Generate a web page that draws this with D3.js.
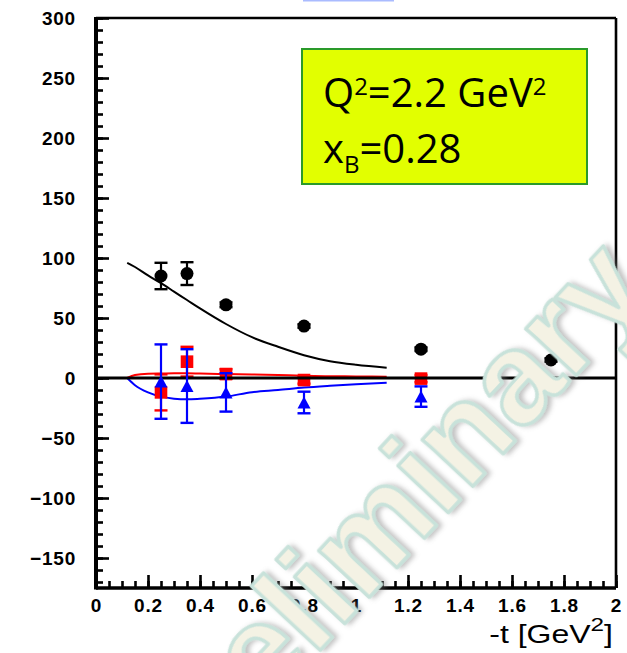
<!DOCTYPE html>
<html>
<head>
<meta charset="utf-8">
<script src="https://cdn.jsdelivr.net/npm/d3@7"></script>
<style>
    body { margin: 0; background: #fff; }
    svg { display: block; }
</style>
</head>
<body>
<script>
//everything inside an anonymous function so nothing leaks to global scope
(function () {

    //data
    var xTicks = [0, 0.2, 0.4, 0.6, 0.8, 1, 1.2, 1.4, 1.6, 1.8, 2];
    var yTicks = [-150, -100, -50, 0, 50, 100, 150, 200, 250, 300];

    var blackT = [0.25, 0.35, 0.5, 0.8, 1.25, 1.75];
    var blackVal = [85, 87, 61, 43.3, 24, 15];
    var blackErr = [11, 9.5, 2, 1.5, 1.5, 1.5];

    var redT = [0.25, 0.35, 0.5, 0.8, 1.25];
    var redVal = [-12, 13.6, 3.3, -1.7, -0.5];
    var redErr = [15, 12.4, 4, 3, 3];

    var blueT = [0.25, 0.35, 0.5, 0.8, 1.25];
    var blueVal = [-3, -6.7, -12, -20.4, -15.5];
    var blueErr = [31, 30.7, 16, 9, 8.5];

    var curveT = [0.12, 0.15, 0.2, 0.25, 0.3, 0.35, 0.4, 0.5, 0.6, 0.7, 0.8, 0.9, 1.0, 1.118];
    var blackCurve = [96, 92.5, 85.5, 79, 72, 65, 58, 45, 34, 26, 19, 14, 11, 8.6];
    var redCurve = [0, 2.5, 3.6, 3.8, 3.9, 3.9, 3.7, 3.3, 3.0, 2.5, 1.9, 1.5, 1.3, 1.1];
    var blueCurve = [0, -6, -12, -15.5, -17.2, -17.8, -17.3, -15.5, -11.8, -10, -8, -6.5, -5.2, -3.9];

    window.onload = draw();

    function draw() {
        var width = 627, height = 653;
        var left = 96, right = 616, top = 18, bottom = 588;

        var svg = d3.select("body").append("svg")
            .attr("width", width)
            .attr("height", height);

        var x = d3.scaleLinear().domain([0, 2]).range([left, right]);
        var y = d3.scaleLinear().domain([-175, 300]).range([bottom, top]);

        //little blue bar at the very top
        svg.append("rect")
            .attr("x", 303).attr("y", 0)
            .attr("width", 91).attr("height", 1.5)
            .attr("fill", "#aabbff");

        //minor ticks y
        var yMinor = d3.axisLeft(y).tickValues(d3.range(-170, 301, 10))
            .tickSize(-7).tickFormat("");
        svg.append("g").attr("class", "axis")
            .attr("transform", "translate(" + left + ",0)")
            .call(yMinor);

        //major ticks y
        var yAxis = d3.axisLeft(y).tickValues(yTicks)
            .tickSize(-13).tickPadding(20)
            .tickFormat(d3.format("d"));
        svg.append("g").attr("class", "axis")
            .attr("transform", "translate(" + left + ",0)")
            .call(yAxis);

        //minor ticks x
        var xMinor = d3.axisBottom(x).tickValues(d3.range(0, 2.001, 0.05))
            .tickSize(-7).tickFormat("");
        svg.append("g").attr("class", "axis")
            .attr("transform", "translate(0," + bottom + ")")
            .call(xMinor);

        var xAxis = d3.axisBottom(x).tickValues(xTicks)
            .tickSize(-13).tickPadding(11)
            .tickFormat(function (d) { return String(+d.toFixed(1)); });
        svg.append("g").attr("class", "axis")
            .attr("transform", "translate(0," + bottom + ")")
            .call(xAxis);

        svg.selectAll(".axis .domain").remove();
        svg.selectAll(".axis line").attr("stroke", "#000").attr("stroke-width", 2.6);
        svg.selectAll(".axis text")
            .attr("fill", "#000")
            .style("font-family", "'Liberation Sans', Arial, sans-serif")
            .style("font-weight", "bold")
            .style("font-size", "19px")
            .style("letter-spacing", "0.8px");

        //frame
        svg.append("line").attr("x1", left).attr("x2", right).attr("y1", top).attr("y2", top)
            .attr("stroke", "#000").attr("stroke-width", 2.6);
        svg.append("line").attr("x1", right).attr("x2", right).attr("y1", top).attr("y2", bottom)
            .attr("stroke", "#000").attr("stroke-width", 2.6);
        svg.append("line").attr("x1", left).attr("x2", right).attr("y1", bottom).attr("y2", bottom)
            .attr("stroke", "#000").attr("stroke-width", 3.4);
        svg.append("line").attr("x1", left).attr("x2", left).attr("y1", top - 1).attr("y2", bottom + 1.5)
            .attr("stroke", "#000").attr("stroke-width", 4);

        //legend box
        svg.append("rect")
            .attr("x", 302).attr("y", 49)
            .attr("width", 285).attr("height", 135)
            .attr("fill", "#e2ff00")
            .attr("stroke", "#2a9a2a").attr("stroke-width", 2);

        var l1 = svg.append("text")
            .attr("x", 323).attr("y", 107)
            .style("font-family", "'Open Sans', Lato, sans-serif")
            .style("font-size", "40px");
        l1.append("tspan").text("Q");
        l1.append("tspan").attr("dy", -12).style("font-size", "24px").text("2");
        l1.append("tspan").attr("dy", 12).text("=2.2 GeV");
        l1.append("tspan").attr("dy", -12).style("font-size", "24px").text("2");

        var l2 = svg.append("text")
            .attr("x", 323).attr("y", 163)
            .style("font-family", "'Open Sans', Lato, sans-serif")
            .style("font-size", "40px");
        l2.append("tspan").text("x");
        l2.append("tspan").attr("dy", 10).style("font-size", "24px").text("B");
        l2.append("tspan").attr("dy", -10).text("=0.28");

        //curves
        var line = d3.line()
            .x(function (d) { return x(d[0]); })
            .y(function (d) { return y(d[1]); })
            .curve(d3.curveMonotoneX);

        function addCurve(vals, color) {
            svg.append("path")
                .datum(curveT.map(function (t, i) { return [t, vals[i]]; }))
                .attr("d", line)
                .attr("fill", "none")
                .attr("stroke", color)
                .attr("stroke-width", 2);
        }
        addCurve(blackCurve, "#000");
        addCurve(redCurve, "#ff0000");
        addCurve(blueCurve, "#0000ff");

        function addErrors(ts, vals, errs, color) {
            var g = svg.append("g");
            ts.forEach(function (t, i) {
                var cx = x(t), y1 = y(vals[i] + errs[i]), y2 = y(vals[i] - errs[i]);
                g.append("line").attr("x1", cx).attr("x2", cx).attr("y1", y1).attr("y2", y2)
                    .attr("stroke", color).attr("stroke-width", 2.2);
                [y1, y2].forEach(function (yy) {
                    g.append("line").attr("x1", cx - 6.5).attr("x2", cx + 6.5).attr("y1", yy).attr("y2", yy)
                        .attr("stroke", color).attr("stroke-width", 2.4);
                });
            });
        }

        //red squares
        addErrors(redT, redVal, redErr, "#ff0000");
        svg.selectAll(".sq")
            .data(redT)
            .enter()
            .append("rect")
            .attr("class", "sq")
            .attr("x", function (d) { return x(d) - 6.3; })
            .attr("y", function (d, i) { return y(redVal[i]) - 6.3; })
            .attr("width", 12.6).attr("height", 12.6)
            .attr("fill", "#ff0000");

        //zero line
        svg.append("line")
            .attr("x1", x(0)).attr("x2", x(2))
            .attr("y1", y(0)).attr("y2", y(0))
            .attr("stroke", "#000").attr("stroke-width", 3);

        //blue triangles
        addErrors(blueT, blueVal, blueErr, "#0000ff");
        svg.selectAll(".tri")
            .data(blueT)
            .enter()
            .append("path")
            .attr("class", "tri")
            .attr("d", function (d, i) {
                var cx = x(d), cy = y(blueVal[i]);
                return "M" + (cx - 6.5) + "," + (cy + 6) + "L" + (cx + 6.5) + "," + (cy + 6) +
                    "L" + cx + "," + (cy - 6) + "Z";
            })
            .attr("fill", "#0000ff");

        //black circles
        addErrors(blackT, blackVal, blackErr, "#000");
        svg.selectAll(".dot")
            .data(blackT)
            .enter()
            .append("circle")
            .attr("class", "dot")
            .attr("cx", function (d) { return x(d); })
            .attr("cy", function (d, i) { return y(blackVal[i]); })
            .attr("r", 6.5)
            .attr("fill", "#000");

        //axis title
        var tt = svg.append("text")
            .attr("text-anchor", "end")
            .attr("transform", "translate(613,643) scale(1.28,1)")
            .style("font-family", "'Liberation Sans', Arial, sans-serif")
            .style("font-size", "25px");
        tt.append("tspan").text("-t [GeV");
        tt.append("tspan").attr("dy", -12).style("font-size", "19px").text("2");
        tt.append("tspan").attr("dy", 12).text("]");

        //watermark
        var defs = svg.append("defs");
        var f = defs.append("filter").attr("id", "shadow")
            .attr("x", "-20%").attr("y", "-20%").attr("width", "140%").attr("height", "140%");
        f.append("feDropShadow").attr("dx", 3).attr("dy", 3).attr("stdDeviation", 2.5)
            .attr("flood-color", "#777").attr("flood-opacity", 0.45);

        svg.append("text")
            .attr("transform", "translate(171,810) rotate(-47)")
            .attr("filter", "url(#shadow)")
            .style("font-family", "'Liberation Sans', Arial, sans-serif")
            .style("font-weight", "bold")
            .style("font-size", "130px")
            .attr("fill", "#f4f2e4")
            .attr("stroke", "#c8e2da")
            .attr("stroke-width", 3.5)
            .attr("stroke-linejoin", "round")
            .text("Preliminary");
    }

})();
</script>
</body>
</html>
